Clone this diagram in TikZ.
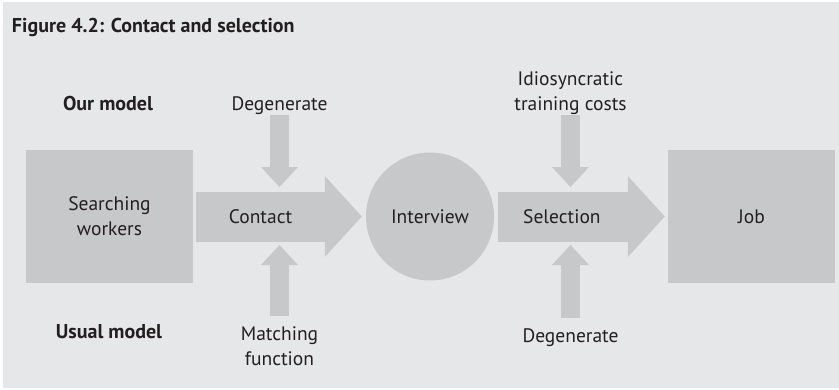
\documentclass[tikz,border=0pt]{standalone}
\usepackage{fontspec}
\setmainfont{PT Sans}
\usetikzlibrary{arrows.meta}

\definecolor{bgcol}{HTML}{E6E7E9}
\definecolor{shapecol}{HTML}{C7C8CA}
\definecolor{inkcol}{HTML}{231F20}

\tikzstyle{lbl}=[inner sep=0pt, outer sep=0pt, align=center, text=inkcol, font=\fontsize{19.5}{25}\selectfont]
\tikzstyle{hdr}=[inner sep=0pt, outer sep=0pt, text=inkcol, font=\bfseries\fontsize{20}{25}\selectfont]
\tikzstyle{stage}=[rectangle, fill=shapecol, minimum width=167pt, minimum height=133pt, inner sep=0pt, align=center, text=inkcol, font=\fontsize{19.5}{25}\selectfont]
\tikzstyle{meet}=[circle, fill=shapecol, minimum size=128pt, inner sep=0pt, text=inkcol, font=\fontsize{19.5}{25}\selectfont]
\tikzstyle{flow}=[draw=shapecol, line width=50pt, -{Triangle[width=81pt,length=37pt,line width=0pt]}]
\tikzstyle{feed}=[draw=shapecol, line width=19pt, -{Triangle[width=37pt,length=20pt,line width=0pt]}]

\begin{document}
\begin{tikzpicture}[x=1pt,y=-1pt]
        \useasboundingbox (0,0) rectangle (839,389);
        \fill[bgcol] (3,2) rectangle (839,388);
        \draw (12,32) node[hdr, anchor=base west](title){Figure 4.2: Contact and selection};
        \draw (108,110) node[hdr, anchor=base](ours){Our model};
        \draw (109,338) node[hdr, anchor=base](usual){Usual model};
        %
        \draw (109.5,216.5) node[stage](workers){Searching\\workers};
        \draw (430,216.5) node[meet](interview){Interview};
        \draw (751.5,216.5) node[stage](job){Job};
        %
        \draw (279.5,110) node[lbl, anchor=base](degtop){Degenerate};
        \draw (279.5,365) node[lbl, anchor=base](matching){Matching\\function};
        \draw (570.5,110) node[lbl, anchor=base](idio){Idiosyncratic\\training costs};
        \draw (570.5,342) node[lbl, anchor=base](degbot){Degenerate};
        %
        \path
            (workers)   edge[flow, shorten <=3pt, shorten >=4pt]  node[lbl, pos=0.39, minimum height=50pt](contact){Contact}   (interview)
            (interview) edge[flow, shorten <=4pt, shorten >=3pt]  node[lbl, pos=0.39, minimum height=50pt](select){Selection} (job)
        ;
        \path
            (degtop)    edge[feed, shorten <=1pt,  shorten >=4.5pt]  (degtop |- contact.north)
            (matching)  edge[feed, shorten <=10pt, shorten >=3.5pt]  (matching |- contact.south)
            (idio)      edge[feed, shorten <=1pt,  shorten >=4.5pt]  (idio |- select.north)
            (degbot)    edge[feed, shorten <=10pt, shorten >=3.5pt]  (degbot |- select.south)
        ;
\end{tikzpicture}
\end{document}
